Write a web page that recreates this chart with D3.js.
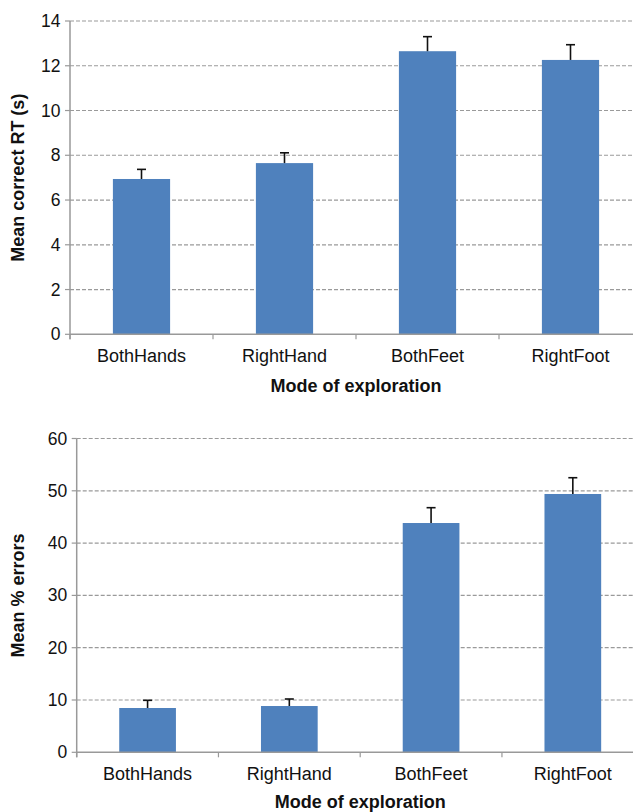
<!DOCTYPE html>
<html><head><meta charset="utf-8">
<script src="https://cdn.jsdelivr.net/npm/d3@7"></script>
<style>
body{margin:0;background:#fff;}
svg{display:block;font-family:"Liberation Sans",Arial,sans-serif;}
</style></head>
<body><svg id="c" width="633" height="812"></svg>
<script>
const categories = ["BothHands","RightHand","BothFeet","RightFoot"];
const rtMeans = [6.94, 7.65, 12.65, 12.26];
const rtErrors = [0.43, 0.46, 0.65, 0.68];
const rtTicks = [0,2,4,6,8,10,12,14];
const errMeans = [8.47, 8.85, 43.84, 49.39];
const errErrors = [1.47, 1.34, 2.93, 3.11];
const errTicks = [0,10,20,30,40,50,60];

const svg = d3.select("#c");

function panel(cfg){
  const g = svg.append("g");
  const x = d3.scaleBand().domain(categories).range([cfg.left, cfg.left + cfg.w]).padding(0);
  const y = d3.scaleLinear().domain([0, cfg.max]).range([cfg.bottom, cfg.top]);
  g.selectAll(".grid").data(cfg.ticks.filter(t=>t>0)).enter().append("line")
    .attr("x1", cfg.left).attr("x2", 633)
    .attr("y1", d=>y(d)).attr("y2", d=>y(d))
    .attr("stroke","#9a9a9a").attr("stroke-width",1.2).attr("stroke-dasharray","4,2");
  const bw = x.bandwidth()*0.4;
  g.selectAll(".bar").data(categories).enter().append("rect")
    .attr("x", d=>x(d)+x.bandwidth()/2-bw/2)
    .attr("width", bw)
    .attr("y", (d,i)=>y(cfg.means[i]))
    .attr("height", (d,i)=>y(0)-y(cfg.means[i]))
    .attr("fill","#4f81bd");
  categories.forEach((c,i)=>{
    const cx = x(c)+x.bandwidth()/2;
    const top = y(cfg.means[i]+cfg.errs[i]);
    g.append("line").attr("x1",cx).attr("x2",cx).attr("y1",y(cfg.means[i])).attr("y2",top)
      .attr("stroke","#111").attr("stroke-width",1.6);
    g.append("line").attr("x1",cx-4.5).attr("x2",cx+4.5).attr("y1",top).attr("y2",top)
      .attr("stroke","#111").attr("stroke-width",1.6);
  });
  g.append("line").attr("x1",cfg.left).attr("x2",cfg.left).attr("y1",y(cfg.max)).attr("y2",y(0)+5)
    .attr("stroke","#999").attr("stroke-width",1.5);
  g.selectAll(".yt").data(cfg.ticks).enter().append("line")
    .attr("x1",cfg.left-5).attr("x2",cfg.left).attr("y1",d=>y(d)).attr("y2",d=>y(d))
    .attr("stroke","#999").attr("stroke-width",1.2);
  g.selectAll(".yl").data(cfg.ticks).enter().append("text")
    .attr("x",cfg.left-9.5).attr("y",d=>y(d)+6)
    .attr("text-anchor","end").attr("font-size","17.5px").attr("fill","#111")
    .text(d=>d);
  g.append("line").attr("x1",cfg.left).attr("x2",633).attr("y1",y(0)).attr("y2",y(0))
    .attr("stroke","#999").attr("stroke-width",1.5);
  g.selectAll(".xt").data(categories).enter().append("line")
    .attr("x1",d=>x(d)).attr("x2",d=>x(d)).attr("y1",y(0)).attr("y2",y(0)+5)
    .attr("stroke","#999").attr("stroke-width",1.2);
  g.selectAll(".xl").data(categories).enter().append("text")
    .attr("x",d=>x(d)+x.bandwidth()/2).attr("y",cfg.catY)
    .attr("text-anchor","middle").attr("font-size","18px").attr("fill","#111")
    .text(d=>d);
  g.append("text").attr("x",cfg.left+cfg.w/2).attr("y",cfg.xTitleY)
    .attr("text-anchor","middle").attr("font-size","18px").attr("font-weight","bold").attr("fill","#111")
    .text("Mode of exploration");
  g.append("text").attr("transform",`translate(24,${(y(0)+y(cfg.max))/2}) rotate(-90)`)
    .attr("text-anchor","middle").attr("font-size","18px").attr("font-weight","bold").attr("fill","#111")
    .text(cfg.yTitle);
}

panel({left:70, w:572, top:21, bottom:334.3, max:14, ticks:rtTicks, means:rtMeans, errs:rtErrors,
  catY:361.5, xTitleY:391.5, yTitle:"Mean correct RT (s)"});
panel({left:76.7, w:567, top:438.5, bottom:752.3, max:60, ticks:errTicks, means:errMeans, errs:errErrors,
  catY:780, xTitleY:808, yTitle:"Mean % errors"});
</script></body></html>
